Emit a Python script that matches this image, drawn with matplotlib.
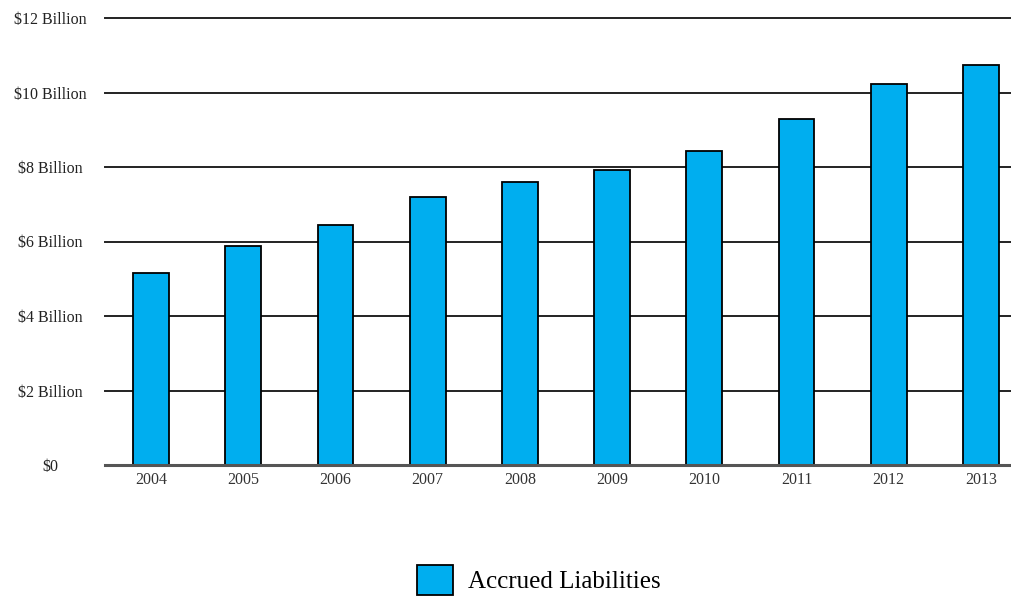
import matplotlib.pyplot as plt
import numpy as np

# Daten (Milliarden USD)
years = ["2004", "2005", "2006", "2007", "2008", "2009", "2010", "2011", "2012", "2013"]
liabilities = [5.15, 5.88, 6.44, 7.19, 7.60, 7.92, 8.43, 9.29, 10.23, 10.74]
y_ticks = [0, 2, 4, 6, 8, 10, 12]
y_labels = ["$0", "$2 Billion", "$4 Billion", "$6 Billion", "$8 Billion", "$10 Billion", "$12 Billion"]
series_name = "Accrued Liabilities"

plt.rcParams['font.family'] = ['Liberation Serif', 'DejaVu Serif']

fig = plt.figure(figsize=(10.11, 5.99), dpi=100)
ax = fig.add_axes([105 / 1011, 1 - 465 / 599, 922 / 1011, 447 / 599])

x = np.arange(len(years))
ax.bar(x, liabilities, width=0.39, color="#00AEEF", edgecolor="black",
       linewidth=1.3, zorder=3, label=series_name)

# Gitterlinien
for t in y_ticks[1:]:
    ax.axhline(t, color="#222222", linewidth=1.4, zorder=1, clip_on=False)
ax.axhline(0, color="#555555", linewidth=2.2, zorder=4, clip_on=False)

ax.set_xlim(-0.5, len(years) - 0.5)
ax.set_ylim(0, 12)
ax.set_xticks(x)
ax.set_xticklabels(years, fontsize=11.5, color="#333333")
ax.set_yticks(y_ticks)
ax.set_yticklabels(y_labels, fontsize=11.5, color="#222222", ha="center")
ax.tick_params(axis="both", length=0)
ax.tick_params(axis="x", pad=5)
ax.tick_params(axis="y", pad=39.6)
for s in ax.spines.values():
    s.set_visible(False)

fig.legend(loc="upper left", bbox_to_anchor=(417 / 1011, 1 - 565 / 599),
           frameon=False, fontsize=18, handlelength=1.45, handleheight=1.45,
           handletextpad=0.6, borderpad=0, borderaxespad=0)

fig.savefig("out.png", dpi=100)
